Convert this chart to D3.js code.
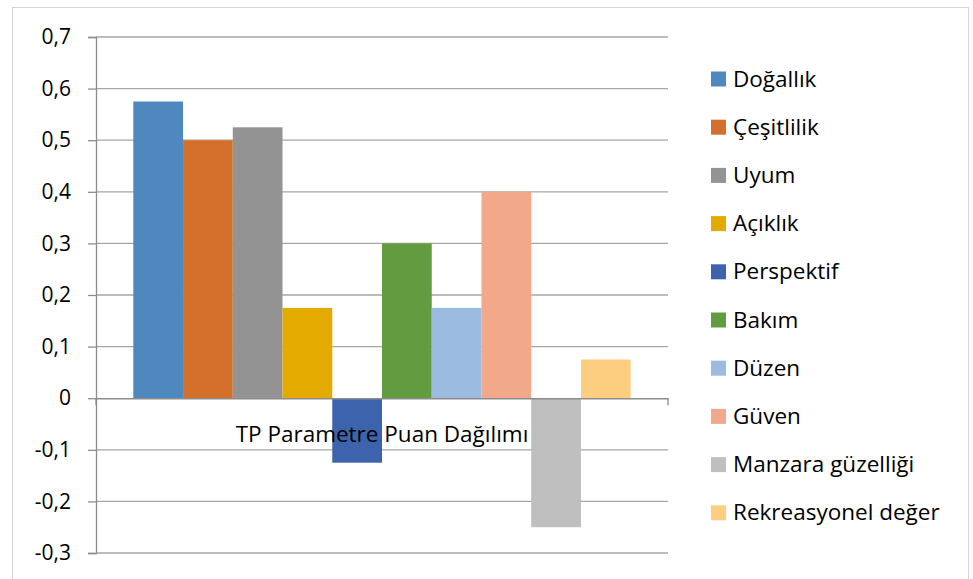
<!DOCTYPE html>
<html>
<head>
<meta charset="utf-8">
<script src="https://cdn.jsdelivr.net/npm/d3@7"></script>
<style>
  html, body { margin: 0; padding: 0; background: #fff; }
  svg { display: block; font-family: "Open Sans", sans-serif; }
</style>
</head>
<body>
<svg id="chart" width="973" height="579"></svg>
<script>
// Series shown as bars within a single category group
const seriesNames = ["Doğallık", "Çeşitlilik", "Uyum", "Açıklık", "Perspektif",
  "Bakım", "Düzen", "Güven", "Manzara güzelliği", "Rekreasyonel değer"];
const seriesValues = [0.575, 0.5, 0.525, 0.175, -0.125, 0.3, 0.175, 0.4, -0.25, 0.075];
const seriesColors = ["#4f87bf", "#d5702c", "#939393", "#e3ab00", "#3c63ac",
  "#629b40", "#9bbbe1", "#f1a88b", "#bfbfbf", "#fece80"];
const categoryLabel = "TP Parametre Puan Dağılımı";
const yTicks = [-0.3, -0.2, -0.1, 0, 0.1, 0.2, 0.3, 0.4, 0.5, 0.6, 0.7];
const yTickLabels = ["-0,3", "-0,2", "-0,1", "0", "0,1", "0,2", "0,3", "0,4", "0,5", "0,6", "0,7"];

const FONT = "'Open Sans', sans-serif";
const TICK_SIZE = "21px";
const TEXT_SIZE = "22.5px";

const svg = d3.select("#chart");
const plot = { left: 96, right: 668, top: 37, bottom: 553 };

// Outer chart border
svg.append("rect")
  .attr("x", 12.5).attr("y", 7.5)
  .attr("width", 956).attr("height", 600)
  .attr("fill", "none").attr("stroke", "#d4d4d4").attr("stroke-width", 1);

const y = d3.scaleLinear().domain([-0.3, 0.7]).range([plot.bottom, plot.top]);

// Single category band; inner band splits it among the series (150% gap width)
const xOuter = d3.scaleBand().domain([categoryLabel]).range([plot.left, plot.right]);
const barsSpan = xOuter.bandwidth() * 10 / 11.5;
const xInner = d3.scaleBand().domain(seriesNames)
  .range([xOuter(categoryLabel) + (xOuter.bandwidth() - barsSpan) / 2,
          xOuter(categoryLabel) + (xOuter.bandwidth() + barsSpan) / 2]);

// Gridlines
svg.append("g")
  .selectAll("line")
  .data(yTicks.filter(t => t !== 0))
  .join("line")
  .attr("x1", plot.left).attr("x2", plot.right)
  .attr("y1", d => y(d)).attr("y2", d => y(d))
  .attr("stroke", "#a6a6a6").attr("stroke-width", 1.3);

// Bars
svg.append("g")
  .selectAll("rect")
  .data(seriesNames.map((n, i) => ({ name: n, value: seriesValues[i], color: seriesColors[i] })))
  .join("rect")
  .attr("x", d => xInner(d.name))
  .attr("width", xInner.bandwidth())
  .attr("y", d => y(Math.max(0, d.value)))
  .attr("height", d => Math.abs(y(d.value) - y(0)))
  .attr("fill", d => d.color);

// Value axis
const yAxis = svg.append("g")
  .attr("transform", `translate(${plot.left},0)`)
  .call(d3.axisLeft(y).tickValues(yTicks).tickSize(8).tickPadding(17)
    .tickFormat((d, i) => yTickLabels[i]));
yAxis.select(".domain").attr("stroke", "#8c8c8c").attr("stroke-width", 1.3);
yAxis.selectAll(".tick line").attr("stroke", "#8c8c8c").attr("stroke-width", 1.3);
yAxis.selectAll(".tick text")
  .attr("fill", "#000")
  .style("font-size", TICK_SIZE)
  .style("font-family", FONT);

// Category axis along zero
const xAxis = svg.append("g")
  .attr("transform", `translate(0,${y(0)})`)
  .call(d3.axisBottom(xOuter).tickSize(0).tickPadding(0));
xAxis.select(".domain").attr("stroke", "#8c8c8c").attr("stroke-width", 1.6);
xAxis.selectAll(".tick text").remove();
svg.append("g").selectAll("line")
  .data([plot.left, plot.right])
  .join("line")
  .attr("x1", d => d).attr("x2", d => d)
  .attr("y1", y(0)).attr("y2", y(0) + 7)
  .attr("stroke", "#8c8c8c").attr("stroke-width", 1.3);

// Category label drawn over the bars
svg.append("text")
  .attr("x", xOuter(categoryLabel) + xOuter.bandwidth() / 2)
  .attr("y", 442)
  .attr("text-anchor", "middle")
  .attr("fill", "#000")
  .style("font-size", TEXT_SIZE)
  .text(categoryLabel);

// Legend
const legend = svg.append("g")
  .selectAll("g")
  .data(seriesNames)
  .join("g")
  .attr("transform", (d, i) => `translate(711,${79 + i * 48.2})`);
legend.append("rect")
  .attr("x", 0).attr("y", -7.5)
  .attr("width", 15).attr("height", 15)
  .attr("fill", (d, i) => seriesColors[i]);
legend.append("text")
  .attr("x", 22).attr("y", 0)
  .attr("dy", "0.34em")
  .attr("fill", "#000")
  .style("font-size", TEXT_SIZE)
  .text(d => d);
</script>
</body>
</html>
